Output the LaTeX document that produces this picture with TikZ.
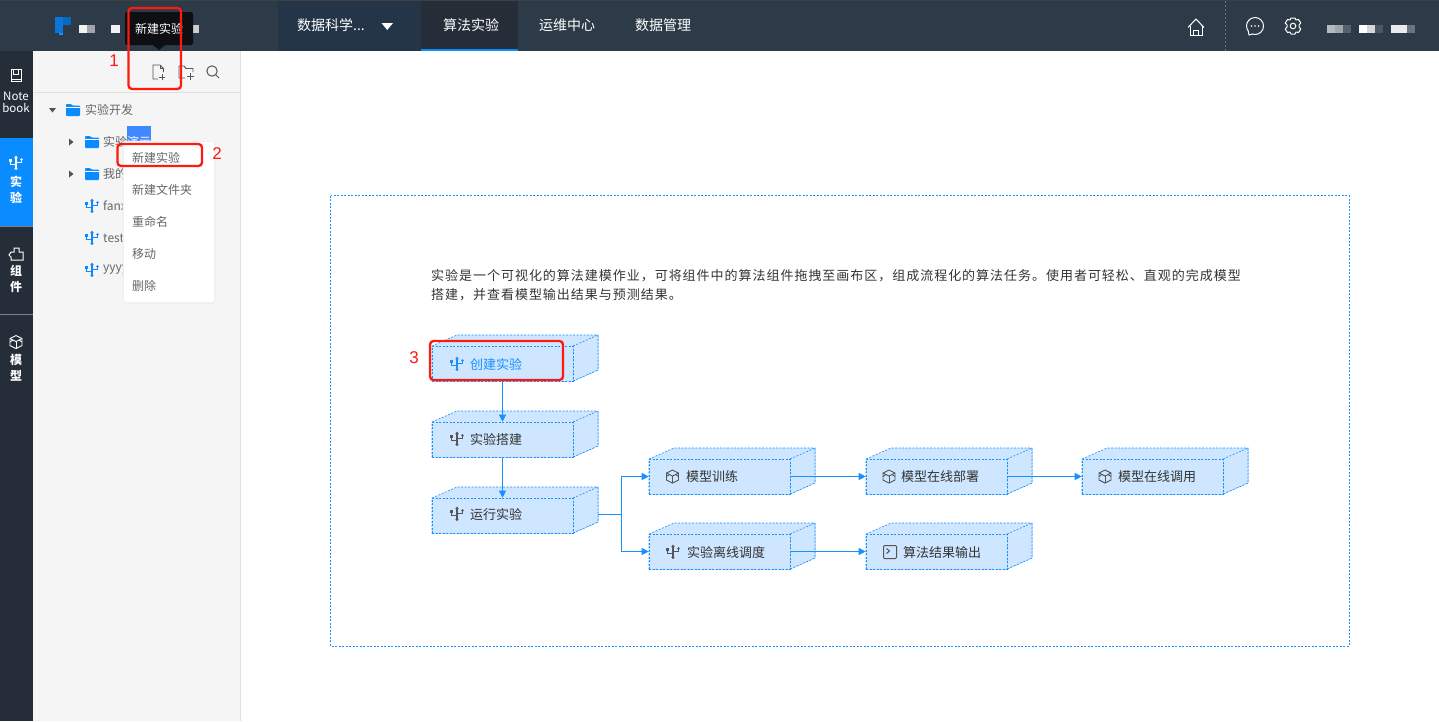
\documentclass[tikz,border=0pt]{standalone}
\usepackage{fontspec}
\setmainfont{Noto Sans CJK SC}
\newfontfamily\numfont{Liberation Sans}
\usetikzlibrary{arrows.meta}
\definecolor{hdr}{HTML}{2D3A47}
\definecolor{hdrb}{HTML}{243548}
\definecolor{hdra}{HTML}{252D38}
\definecolor{side}{HTML}{252D38}
\definecolor{act}{HTML}{0A8CFF}
\definecolor{panel}{HTML}{F5F5F5}
\definecolor{bl}{HTML}{1890FF}
\definecolor{cubef}{HTML}{CEE6FF}
\definecolor{ink}{HTML}{333333}
\definecolor{mn}{HTML}{666666}
\definecolor{icong}{HTML}{555555}
\definecolor{redm}{HTML}{FF1A0D}
\definecolor{tipc}{HTML}{0D0F12}
\definecolor{sel}{HTML}{4088FF}
\newcommand\fs[1]{\fontsize{#1}{#1}\selectfont}
\newcommand\fwc{\char"FF0C\relax}
\tikzset{
  x=1pt,y=-1pt,
  boxline/.style={draw=bl,line width=.6pt,dash pattern=on 2pt off 1.5pt,fill=cubef},
  front/.style={boxline,rectangle,minimum width=141pt,minimum height=35pt,inner sep=0pt},
  flow/.style={draw=bl,line width=1pt,-{Triangle[length=7pt,width=7pt]}},
  flowplain/.style={draw=bl,line width=1pt},
  boxtext/.style={anchor=west,inner sep=0pt,font=\fs{13},text=#1},
  boxtext/.default=ink,
  tree/.style={anchor=west,inner sep=0pt,font=\fs{12},text=mn},
  menuitem/.style={anchor=west,inner sep=0pt,font=\fs{12},text=mn},
  navitem/.style={inner sep=0pt,font=\fs{14},text=white,anchor=west},
  sidet/.style={inner sep=0pt,font=\fs{12}\bfseries,text=white},
  redbox/.style={draw=redm,line width=2.3pt,rounded corners=3.5pt},
  rednum/.style={inner sep=0pt,font=\numfont\fs{17},text=redm},
}
% fork (USB-like) icon centred at #1,#2
\newcommand\forkicon[3]{\begin{scope}[shift={(#1,#2)},line width=1.1pt,draw=#3]
 \draw (0,-6.5) -- (0,6);
 \draw (-5.5,-2.5) -- (-5.5,1.5) -- (0,1.5);
 \draw (5.5,-3) -- (5.5,-.8) -- (0,-.8);
 \fill[#3] (0,5.5) circle (1.6);
 \fill[#3] (-7,-4) rectangle (-4,-1.5);
 \fill[#3] (5.5,-3.5) circle (1.4);
 \fill[#3] (-1.8,-5) -- (0,-7.5) -- (1.8,-5) -- cycle;
\end{scope}}
\newcommand\cubeicon[3]{\begin{scope}[shift={(#1,#2)},line width=.9pt,draw=#3]
 \draw (0,-6.5) -- (6,-3.5) -- (6,3.5) -- (0,6.5) -- (-6,3.5) -- (-6,-3.5) -- cycle;
 \draw (-6,-3.5) -- (0,-.5) -- (6,-3.5);
 \draw (0,-.5) -- (0,6.5);
 \draw (-6,0) -- (-3,-2) (6,0) -- (3,-2);
\end{scope}}
\newcommand\foldericon[2]{\begin{scope}[shift={(#1,#2)}]
 \fill[act,rounded corners=.8pt] (-7,-6) -- (-2,-6) -- (-.5,-4.5) -- (7,-4.5) -- (7,6) -- (-7,6) -- cycle;
 \draw[white,line width=.7pt] (-7,-2.5) -- (7,-2.5);
\end{scope}}
% cube box: name, left x, top y, text, text x offset, text colour, text y
\newcommand\cubebox[7]{%
 \path[boxline] (#2,#3) -- ++(25,-11) -- ++(141,0) -- ++(0,35) -- ++(-25,11) -- ++(-141,0) -- cycle;
 \path[boxline] (#2+141,#3) -- ++(25,-11) -- ++(0,35) -- ++(-25,11) -- cycle;
 \node[front] (#1) at (#2+70.5,#3+17.5) {};
 \coordinate (#1-s) at (#2+166,#3+16);
 \node[boxtext=#6] (#1-t) at (#2+#5,#7+1) {#4};
}
\begin{document}
\begin{tikzpicture}
\useasboundingbox (0,0) rectangle (1439,721);
\fill[white] (0,0) rectangle (1439,721);
% header
\fill[hdr] (0,0) rectangle (1439,51);
\fill[black!75] (0,0) rectangle (1439,1);
\fill[hdrb] (278,1) rectangle (421,51);
\fill[hdra] (421,1) rectangle (518,49);
\fill[act] (421,48.5) rectangle (518,51);
% logo
\fill[act!85!black] (55,17) rectangle (63,33);
\fill[act!75!black] (63,17) rectangle (71,25);
\fill[bl] (59,33) rectangle (63,35);
% blurred name
\fill[white!95!black] (79,25) rectangle (87,33);
\fill[white!55!hdr] (87,25) rectangle (95,33);
\fill[white!95!black] (111,25) rectangle (120,33);
\fill[white!75!hdr] (183,25) rectangle (199,33);
% nav
\node[navitem] (nav0) at (297,25) {数据科学...};
\node[navitem] (nav1) at (443,25) {算法实验};
\node[navitem] (nav2) at (539,25) {运维中心};
\node[navitem] (nav3) at (635,25) {数据管理};
\fill[white] (381.5,23) -- (393,23) -- (387.2,30) -- cycle;
% right header icons
\begin{scope}[shift={(1196,27)},draw=white,line width=1pt]
 \draw (-8,.5) -- (0,-8) -- (8,.5);
 \draw (-6,-1) -- (-6,8) -- (6,8) -- (6,-1);
 \draw (-2.5,8) -- (-2.5,3) -- (2.5,3) -- (2.5,8);
\end{scope}
\draw[white!30!hdr,line width=.7pt,dash pattern=on 2pt off 2pt] (1225.5,1) -- (1225.5,51);
\begin{scope}[shift={(1255,26)},draw=white,line width=1pt]
 \draw (0,0) circle (8.5);
 \fill[white] (-3.5,0) circle (.9) (0,0) circle (.9) (3.5,0) circle (.9);
 \fill[hdr] (-6,5) rectangle (-3.5,9.5);
 \draw (-6.8,5) -- (-6,9) -- (-2.8,8);
\end{scope}
\begin{scope}[shift={(1293,26)},draw=white,line width=1pt,line join=round]
 \draw (-2,-8) -- (2,-8) -- (3,-6) -- (5.5,-6.5) -- (7.8,-3) -- (6,-1) -- (6,1) -- (7.8,3) -- (5.5,6.5) -- (3,6) -- (2,8) -- (-2,8) -- (-3,6) -- (-5.5,6.5) -- (-7.8,3) -- (-6,1) -- (-6,-1) -- (-7.8,-3) -- (-5.5,-6.5) -- (-3,-6) -- cycle;
 \draw (0,0) circle (2.8);
\end{scope}
\fill[white!65!hdr] (1327,25) rectangle (1335,33);
\fill[white!55!hdr] (1335,25) rectangle (1343,33);
\fill[white!20!hdr] (1343,25) rectangle (1351,33);
\fill[white] (1359,25) rectangle (1367,33);
\fill[white!80!hdr] (1367,25) rectangle (1375,33);
\fill[white!15!hdr] (1375,25) rectangle (1383,33);
\fill[white!90!hdr] (1391,25) rectangle (1407,33);
\fill[white!30!hdr] (1407,25) rectangle (1415,33);
% left rail
\fill[side] (0,51) rectangle (33,721);
\fill[act] (0,138) rectangle (33,226);
\draw[white!40!side,line width=.7pt] (0,226.5) -- (33,226.5) (0,314.5) -- (33,314.5);
\begin{scope}[shift={(16,75.5)},draw=white,line width=1pt]
 \draw (-5,-6) rectangle (5,6);
 \draw (-5,4) -- (5,4) (-2.5,-6) -- (-2.5,-1) -- (2.5,-1) -- (2.5,-6);
\end{scope}
\node[inner sep=0pt,font=\fs{11.5},text=white] (rn1) at (16,96.5) {Note};
\node[inner sep=0pt,font=\fs{11.5},text=white] (rn2) at (16,108) {book};
\forkicon{16}{163}{white}
\node[sidet] (rs1) at (16,181.5) {实};
\node[sidet] (rs2) at (16,197.5) {验};
\begin{scope}[shift={(16,254)},draw=white,line width=1pt]
 \draw (-5,-2) -- (-2,-2) -- (-2,-6) -- (3,-6) -- (3,-2) -- (7,-2) -- (7,6) -- (-5,6) -- (-5,3) -- (-7,1) -- cycle;
\end{scope}
\node[sidet] (rs3) at (16,271) {组};
\node[sidet] (rs4) at (16,287) {件};
\cubeicon{16}{342}{white}
\node[sidet] (rs5) at (16,360) {模};
\node[sidet] (rs6) at (16,376) {型};
% panel
\fill[panel] (33,51) rectangle (240,721);
\draw[black!12,line width=.8pt] (240,51) -- (240,721);
\draw[black!12,line width=.8pt] (33,92.5) -- (240,92.5);
% tooltip
\fill[tipc,rounded corners=2pt] (125,12) rectangle (193,45);
\fill[tipc] (153,45) -- (165,45) -- (159,50) -- cycle;
\node[inner sep=0pt,font=\fs{12},text=white] (tip) at (159,29) {新建实验};
% toolbar icons
\begin{scope}[shift={(158,72)},draw=icong,line width=.9pt]
 \draw (0,7) -- (-5,7) -- (-5,-7) -- (2,-7) -- (5.5,-3.5) -- (5.5,0);
 \draw (2,-7) -- (2,-3.5) -- (5.5,-3.5);
 \draw (1,5) -- (7,5) (4,2) -- (4,8);
\end{scope}
\begin{scope}[shift={(186,72)},draw=icong,line width=.9pt]
 \draw (-1,6) -- (-7,6) -- (-7,-6) -- (-2,-6) -- (0,-3.5) -- (7,-3.5) -- (7,0);
 \draw (1,4) -- (8,4) (4.5,.5) -- (4.5,7.5);
\end{scope}
\begin{scope}[shift={(212,71)},draw=icong,line width=1pt]
 \draw (0,0) circle (5.2);
 \draw (3.8,3.8) -- (7,7);
\end{scope}
% tree
\fill[icong] (49,108) -- (56,108) -- (52.5,112.5) -- cycle;
\foldericon{73}{110}
\node[tree] (t0) at (85,110) {实验开发};
\fill[sel] (127,126) rectangle (151,142);
\fill[icong] (69,138.5) -- (73.5,142) -- (69,145.5) -- cycle;
\foldericon{92}{142}
\node[tree] (t1) at (103,142) {实验{\color{white}演示}};
\fill[icong] (69,170.5) -- (73.5,174) -- (69,177.5) -- cycle;
\foldericon{92}{174}
\node[tree] (t2) at (103,174) {我的实验};
\forkicon{92}{206}{act}
\node[tree] (t3) at (103,206) {fanxi};
\forkicon{92}{238}{act}
\node[tree] (t4) at (103,238) {test1};
\forkicon{92}{270}{act}
\node[tree] (t5) at (103,270) {yyyyy};
% context menu
\fill[black!6,rounded corners=3pt] (122.5,141) rectangle (215.5,304);
\fill[white,rounded corners=2pt] (124,142) rectangle (214,302);
\node[menuitem] (m1) at (132,157.5) {新建实验};
\node[menuitem] (m2) at (132,189.5) {新建文件夹};
\node[menuitem] (m3) at (132,221.5) {重命名};
\node[menuitem] (m4) at (132,253.5) {移动};
\node[menuitem] (m5) at (132,285.5) {删除};
% canvas frame
\draw[bl,line width=.7pt,dash pattern=on 2pt off 1.5pt] (330.5,195.5) rectangle (1349,646);
\node[anchor=west,inner sep=0pt,font=\fs{13}\addfontfeature{LetterSpace=7.5},text=ink] (d1) at (431,276) {实验是一个可视化的算法建模作业\fwc 可将组件中的算法组件拖拽至画布区\fwc 组成流程化的算法任务。使用者可轻松、直观的完成模型};
\node[anchor=west,inner sep=0pt,font=\fs{13}\addfontfeature{LetterSpace=7.5},text=ink] (d2) at (431,295) {搭建\fwc 并查看模型输出结果与预测结果。};
% cubes
\cubebox{b1}{432}{346}{创建实验}{38}{bl}{364}
\cubebox{b2}{432}{422}{实验搭建}{38}{ink}{439}
\cubebox{b3}{432}{498}{运行实验}{38}{ink}{514}
\cubebox{b4}{649}{459}{模型训练}{37}{ink}{476}
\cubebox{b5}{866}{459}{模型在线部署}{35}{ink}{476}
\cubebox{b6}{1082}{459}{模型在线调用}{36}{ink}{476}
\cubebox{b7}{649}{534}{实验离线调度}{38}{ink}{552}
\cubebox{b8}{866}{534}{算法结果输出}{37}{ink}{552}
\forkicon{457}{364}{bl}
\forkicon{457}{439}{icong}
\forkicon{457}{514}{icong}
\cubeicon{672.5}{476.5}{icong}
\cubeicon{889}{476.5}{icong}
\cubeicon{1105}{476.5}{icong}
\forkicon{673}{552}{icong}
\begin{scope}[shift={(890,552)},draw=icong,line width=1pt]
 \draw[rounded corners=1pt] (-6.5,-6.5) rectangle (6.5,6.5);
 \draw (-3.5,-3.5) -- (-.5,-1) -- (-3.5,1.5);
\end{scope}
% connectors
\coordinate (j) at (621,514);
\draw[flow] (b1.south) -- (b2.north);
\draw[flow] (b2.south) -- (b3.north);
\draw[flowplain] (b3-s) -- (j);
\draw[flow] (j) |- (b4.west);
\draw[flow] (j) |- (b7.west);
\draw[flow] (b4.east) -- (b5.west);
\draw[flow] (b5.east) -- (b6.west);
\draw[flow] (b7.east) -- (b8.west);
% red markers
\draw[redbox] (128.5,8) rectangle (181,89);
\draw[redbox] (117.5,144) rectangle (202,166);
\draw[redbox] (430,341) rectangle (563,380);
\node[rednum] (n1) at (114,61) {1};
\node[rednum] (n2) at (217,154) {2};
\node[rednum] (n3) at (414,358) {3};
\end{tikzpicture}
\end{document}
